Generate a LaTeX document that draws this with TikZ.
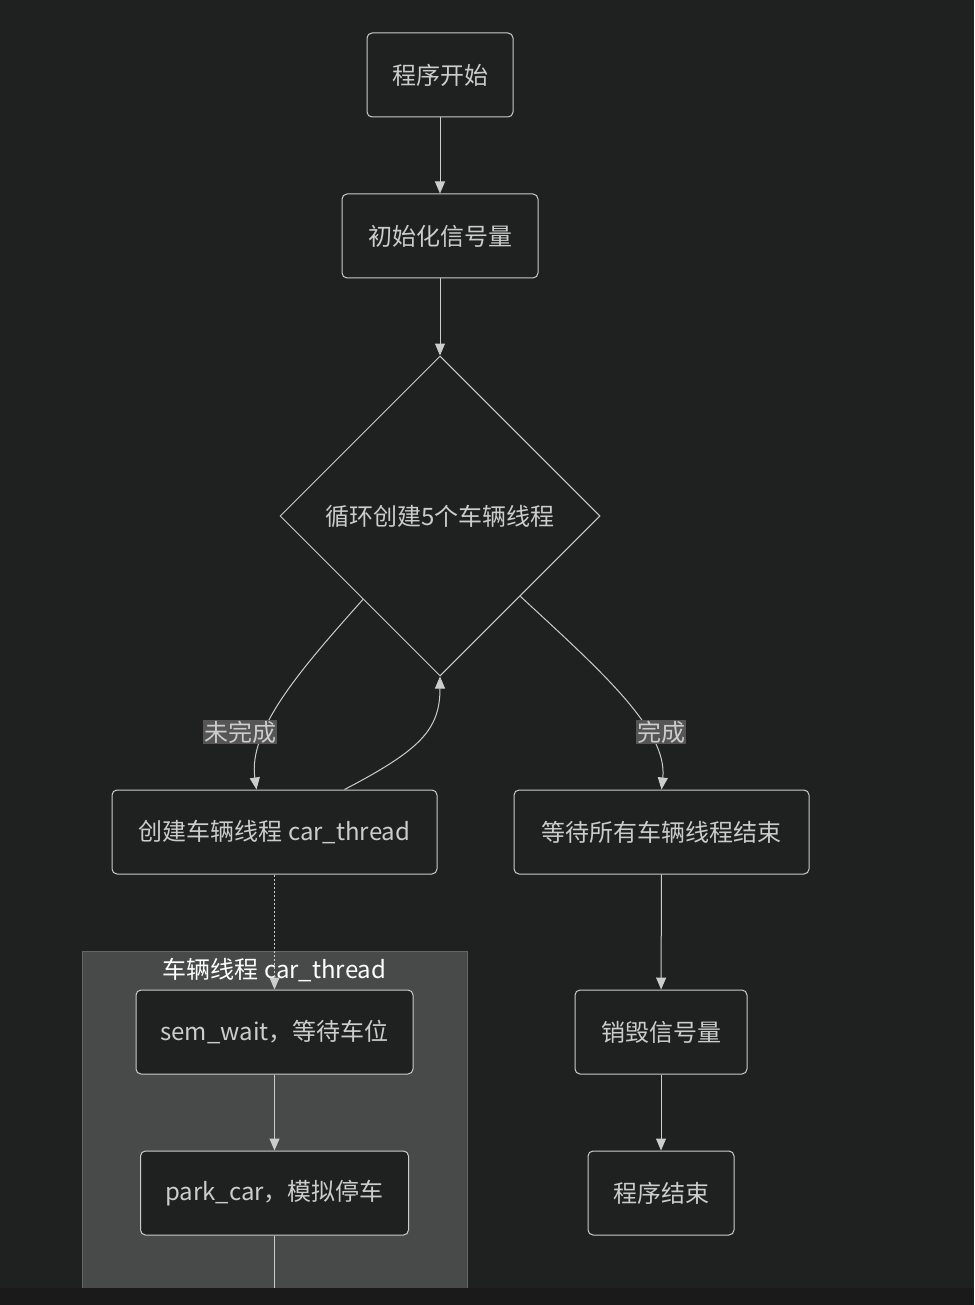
\documentclass[tikz,border=0pt]{standalone}
\usepackage{fontspec}
\setmainfont{Noto Sans CJK SC}
\usetikzlibrary{shapes.geometric,arrows.meta,calc}
\definecolor{bg}{HTML}{1F2020}
\definecolor{band}{HTML}{1A1A1A}
\definecolor{ln}{HTML}{CCCCCC}
\definecolor{tx}{HTML}{CCCCCC}
\definecolor{cl}{HTML}{484A49}
\definecolor{clb}{HTML}{666666}
\definecolor{lb}{HTML}{555555}
\tikzset{
 box/.style={draw=ln,line width=1pt,fill=bg,rounded corners=5pt,text=tx,font=\fontsize{24}{28}\selectfont,inner sep=0pt},
 edge/.style={draw=ln,line width=1pt,-{Triangle[length=12pt,width=10pt]}},
 elab/.style={fill=lb,text=tx,font=\fontsize{24}{28}\selectfont,inner sep=1pt}
}
\begin{document}
\begin{tikzpicture}[x=1pt,y=-1pt]
\fill[bg] (0,0) rectangle (974,1305);
\useasboundingbox (0,0) rectangle (974,1305);
\fill[cl] (82,951) rectangle (467,1288);
\draw[clb,line width=1pt] (82,1288) -- (82,951) -- (467,951) -- (467,1288);
\node[text=white,font=\fontsize{24}{28}\selectfont] (ct) at (274.5,970) {车辆线程 car\_thread};
\node[box,minimum width=146pt,minimum height=84pt] (start) at (440,75) {程序开始};
\node[box,minimum width=196pt,minimum height=84pt] (init) at (440,236) {初始化信号量};
\node[diamond,draw=ln,line width=1pt,fill=bg,text=tx,font=\fontsize{24}{28}\selectfont,minimum width=320pt,minimum height=320pt,inner sep=0pt] (dia) at (440,516) {循环创建5个车辆线程};
\node[box,minimum width=325pt,minimum height=84pt] (create) at (274.5,832) {创建车辆线程 car\_thread};
\node[box,minimum width=295pt,minimum height=84pt] (wait) at (661.5,832) {等待所有车辆线程结束};
\node[box,minimum width=277pt,minimum height=84pt] (sw) at (274.5,1032) {sem\_wait，等待车位};
\node[box,minimum width=268pt,minimum height=84pt] (park) at (274.5,1193) {park\_car，模拟停车};
\node[box,minimum width=172pt,minimum height=84pt] (destroy) at (661,1032) {销毁信号量};
\node[box,minimum width=146pt,minimum height=84pt] (end) at (661,1193) {程序结束};
\coordinate (pend) at (274.5,1288);
\fill[band] (0,1288) rectangle (974,1305);
\draw[edge] (start) -- (init);
\draw[edge] (init) -- (dia.north);
\draw[edge] ($(dia.west)!0.52!(dia.south)$) .. controls (300,670) and (248,730) .. ($(create.north)+(-18,0)$);
\draw[edge] ($(dia.east)!0.5!(dia.south)$) .. controls (600,670) and (668,730) .. (wait.north);
\draw[edge] ($(create.north)+(70,0)$) .. controls (420,750) and (440,730) .. (dia.south);
\node[elab] (l1) at (240,732) {未完成};
\node[elab] (l2) at (661,732) {完成};
\draw[edge,dash pattern=on 2pt off 2pt] (create) -- (sw);
\draw[edge] (sw) -- (park);
\draw[ln,line width=1pt] (park) -- (pend);
\draw[edge] (wait) -- (destroy);
\draw[edge] (destroy) -- (end);
\end{tikzpicture}
\end{document}
